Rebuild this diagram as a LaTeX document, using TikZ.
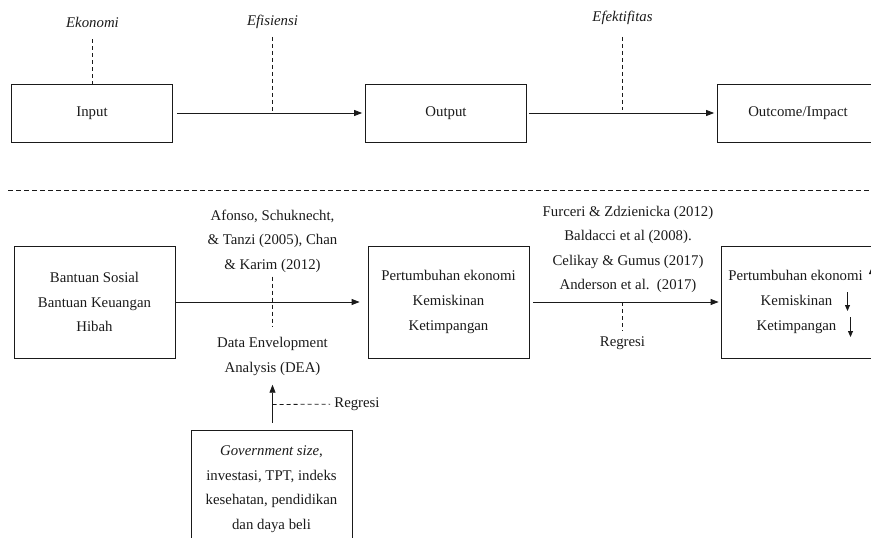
\documentclass[tikz,border=0pt]{standalone}
\usepackage{fontspec}
\setmainfont{Liberation Serif}
\usetikzlibrary{arrows.meta,positioning}
\definecolor{ink}{HTML}{1A1A1A}

\begin{document}
\begin{tikzpicture}[x=1pt,y=-1pt,color=ink,
  box/.style={draw,line width=0.8pt,minimum width=161pt,minimum height=58pt,inner sep=0pt},
  tallbox/.style={box,minimum height=112pt},
  lbl/.style={font=\fontsize{14.8}{24.6}\selectfont,align=center,inner sep=1pt},
  ilbl/.style={font=\fontsize{14.8}{24.6}\selectfont\itshape,align=center,inner sep=1pt},
  flow/.style={-{Triangle[length=8pt,width=6pt]},line width=0.8pt},
  tick/.style={-{Triangle[length=6pt,width=5pt]},line width=0.8pt},
  guide/.style={line width=0.8pt,dash pattern=on 4pt off 3pt}]
  \clip (0,0) rectangle (871,538);
  \useasboundingbox (0,0) rectangle (871,538);

  % top row
  \node[box,lbl] (input) at (92,113) {Input};
  \node[box,lbl] (output) at (446,113) {Output};
  \node[box,lbl] (impact) at (798,113) {Outcome/Impact};
  \node[ilbl] (ekonomi) at (92.5,22) {Ekonomi};
  \node[ilbl] (efisiensi) at (272.5,22) {Efisiensi};
  \node[ilbl] (efektif) at (622.5,18) {Efektifitas};
  \coordinate (midA) at (272.5,112);
  \coordinate (midB) at (622.5,112);

  \draw[flow,shorten <=4pt,shorten >=3pt] (input) -- (output);
  \draw[flow,shorten <=2pt,shorten >=3pt] (output) -- (impact);
  \draw[guide,shorten <=11pt] (ekonomi) -- (input.north-|ekonomi);
  \draw[guide,shorten <=7pt] (efisiensi) -- (midA);
  \draw[guide,shorten <=11pt,shorten >=2pt] (efektif) -- (midB);

  \draw[guide,dash pattern=on 5pt off 3pt] (8,190.5) -- (871,190.5);

  % bottom row
  \node[tallbox,lbl] (bantuan) at (94.5,302) {Bantuan Sosial\\Bantuan Keuangan\\Hibah};
  \node[tallbox,lbl] (growth) at (448.5,302) {Pertumbuhan ekonomi\\Kemiskinan\\Ketimpangan};
  \node[tallbox,lbl] (result) at (801.5,302)
    {Pertumbuhan ekonomi\kern12pt\\Kemiskinan\kern10pt\\Ketimpangan\kern10pt};
  \node[lbl] (afonso) at (272.5,241) {Afonso, Schuknecht,\\\& Tanzi (2005), Chan\\\& Karim (2012)};
  \node[lbl] (dea) at (272.5,356.5) {Data Envelopment\\Analysis (DEA)};
  \node[lbl] (furceri) at (628,249.5)
    {Furceri \& Zdzienicka (2012)\\Baldacci et al (2008).\\Celikay \& Gumus (2017)\\Anderson et al.~~(2017)};
  \node[lbl] (regresiA) at (622.5,343) {Regresi};
  \node[box,lbl,minimum height=118pt] (factors) at (271.5,489)
    {\textit{Government size},\\investasi, TPT, indeks\\kesehatan, pendidikan\\dan daya beli};
  \node[lbl] (regresiB) at (357,404) {Regresi};
  \coordinate (midC) at (622.5,302);
  \coordinate (midD) at (272.5,404.5);

  \draw[flow,shorten <=1pt,shorten >=8pt] (bantuan) -- (growth);
  \draw[flow,shorten <=4pt,shorten >=2pt] (growth) -- (result);
  \draw[guide,shorten <=3pt,shorten >=9pt] (afonso) -- (dea);
  \draw[guide,shorten >=4pt] (midC) -- (regresiA);
  \draw[flow,shorten <=7pt,shorten >=8pt] (factors.north-|dea) -- (dea.south);
  \draw[guide,shorten >=3pt] (midD) -- (regresiB);

  % up / down marks
  \draw[tick] (871.5,288) -- (871.5,268);
  \draw[tick] (847.5,292) -- (847.5,311);
  \draw[tick] (850.5,317) -- (850.5,337);
\end{tikzpicture}
\end{document}
